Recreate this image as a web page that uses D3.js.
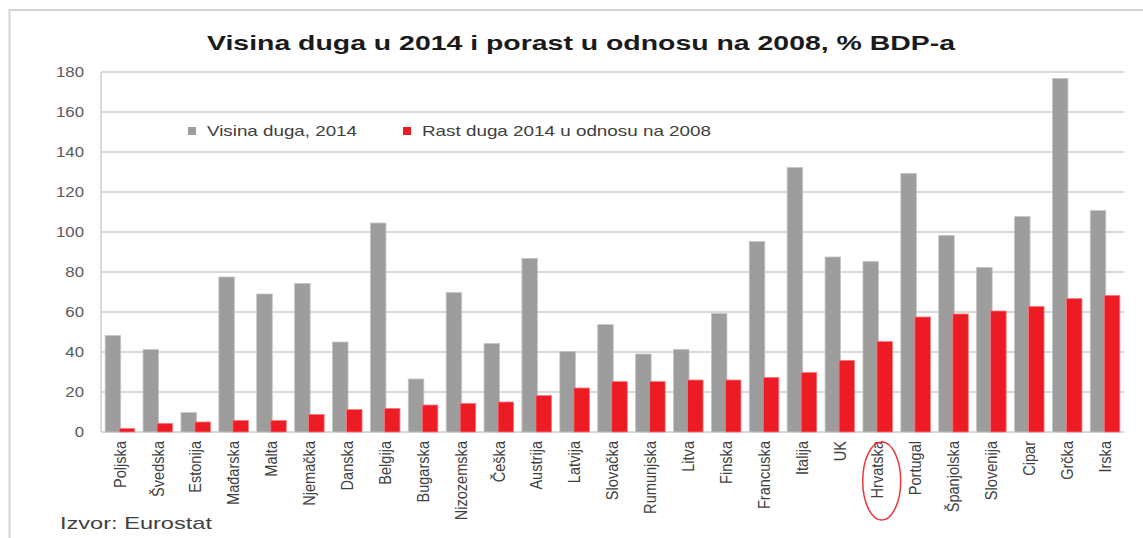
<!DOCTYPE html>
<html>
<head>
<meta charset="utf-8">
<script src="https://cdn.jsdelivr.net/npm/d3@7"></script>
<style>
  html, body { margin: 0; padding: 0; background: #fff; }
  svg { display: block; }
  text { font-family: "Liberation Sans", Arial, sans-serif; }
</style>
</head>
<body>
<svg id="chart" width="1143" height="538"></svg>
<script>
// ---- data ----
const categories = ["Poljska","Švedska","Estonija","Mađarska","Malta","Njemačka","Danska","Belgija","Bugarska","Nizozemska","Češka","Austrija","Latvija","Slovačka","Rumunjska","Litva","Finska","Francuska","Italija","UK","Hrvatska","Portugal","Španjolska","Slovenija","Cipar","Grčka","Irska"];
const debt2014 = [48.2,41.2,9.7,77.5,69.0,74.3,45.0,104.5,26.5,69.8,44.3,86.8,40.3,53.7,39.0,41.3,59.2,95.3,132.3,87.5,85.3,129.3,98.3,82.3,107.7,176.8,110.7];
const growth2008 = [1.8,4.3,5.0,5.8,5.8,8.8,11.2,11.8,13.5,14.3,15.0,18.2,22.0,25.2,25.2,26.0,26.0,27.3,29.7,35.8,45.2,57.5,59.0,60.5,62.8,66.7,68.3];
const yTicks = [0,20,40,60,80,100,120,140,160,180];
const seriesNames = ["Visina duga, 2014","Rast duga 2014 u odnosu na 2008"];
const titleText = "Visina duga u 2014 i porast u odnosu na 2008, % BDP-a";
const sourceText = "Izvor: Eurostat";
const highlighted = "Hrvatska";

// ---- styles / layout ----
const GRAY = "#9c9d9c", RED = "#ed1c24", GRID = "#d9d9d9";
const svg = d3.select("#chart");

function stretch(sel, k) {
  sel.each(function() {
    const w = this.getComputedTextLength();
    d3.select(this).attr("textLength", w * k).attr("lengthAdjust", "spacingAndGlyphs");
  });
}
function fitTo(sel, w) {
  sel.attr("textLength", w).attr("lengthAdjust", "spacingAndGlyphs");
}

// frame
svg.append("rect").attr("x", 9.5).attr("y", 10).attr("width", 1160).attr("height", 560)
  .attr("fill", "none").attr("stroke", "#d4d4d4").attr("stroke-width", 2);

const x = d3.scaleBand().domain(categories).range([101, 1124]).padding(0);
const y = d3.scaleLinear().domain([0, 180]).range([432, 72]);

// gridlines
svg.append("g").selectAll("line").data(yTicks).join("line")
  .attr("x1", 101).attr("x2", 1124)
  .attr("y1", d => y(d)).attr("y2", d => y(d))
  .attr("stroke", GRID).attr("stroke-width", 2);
// y axis line
svg.append("line").attr("x1", 101).attr("x2", 101).attr("y1", y(180)).attr("y2", y(0))
  .attr("stroke", GRID).attr("stroke-width", 2);

// y tick labels
const yl = svg.append("g").selectAll("text").data(yTicks).join("text")
  .attr("x", 84).attr("y", d => y(d)).attr("dy", "0.35em")
  .attr("text-anchor", "end").attr("font-size", 14).attr("fill", "#595959")
  .text(d => d);
stretch(yl, 1.2);

// bars
const bw = x.bandwidth();
const barW = bw * 0.41, ov = bw * 0.04;
const cx = d => x(d) + bw / 2;
svg.append("g").selectAll("rect").data(categories).join("rect")
  .attr("x", (d) => cx(d) - barW + ov / 2)
  .attr("y", (d, i) => y(debt2014[i]))
  .attr("width", barW)
  .attr("height", (d, i) => y(0) - y(debt2014[i]))
  .attr("fill", GRAY).attr("stroke", "#c4c5c4").attr("stroke-width", 0.8);
svg.append("g").selectAll("rect").data(categories).join("rect")
  .attr("x", (d) => cx(d) - ov / 2)
  .attr("y", (d, i) => y(growth2008[i]))
  .attr("width", barW)
  .attr("height", (d, i) => y(0) - y(growth2008[i]))
  .attr("fill", RED).attr("stroke", "#f47a7f").attr("stroke-width", 0.8);

// x labels
const xl = svg.append("g").selectAll("text").data(categories).join("text")
  .attr("transform", d => `translate(${cx(d)},441) rotate(-90) scale(1,1.2)`)
  .attr("dy", "0.35em").attr("text-anchor", "end")
  .attr("font-size", 13.5).attr("fill", "#404040")
  .text(d => d);
stretch(xl, 1.08);

// highlight ellipse
svg.append("ellipse").attr("cx", cx(highlighted) + 4).attr("cy", 481)
  .attr("rx", 19).attr("ry", 39)
  .attr("fill", "none").attr("stroke", "#e8373d").attr("stroke-width", 1.5);

// title
const t = svg.append("text").attr("x", 581).attr("y", 50).attr("text-anchor", "middle")
  .attr("font-size", 21).attr("font-weight", "bold").attr("fill", "#1a1a1a")
  .text(titleText);
fitTo(t, 748);

// legend
const legendX = [188, 403], legendTW = [150, 289];
const lg = svg.append("g").selectAll("g").data(seriesNames).join("g");
lg.append("rect").attr("x", (d, i) => legendX[i]).attr("y", 127).attr("width", 8).attr("height", 8)
  .attr("fill", (d, i) => i ? RED : GRAY);
lg.append("text").attr("x", (d, i) => legendX[i] + 19).attr("y", 131).attr("dy", "0.35em")
  .attr("font-size", 15).attr("fill", "#404040")
  .attr("textLength", (d, i) => legendTW[i]).attr("lengthAdjust", "spacingAndGlyphs")
  .text(d => d);

// source
const s = svg.append("text").attr("x", 60).attr("y", 529)
  .attr("font-size", 17).attr("fill", "#404040").text(sourceText);
fitTo(s, 152);
</script>
</body>
</html>
